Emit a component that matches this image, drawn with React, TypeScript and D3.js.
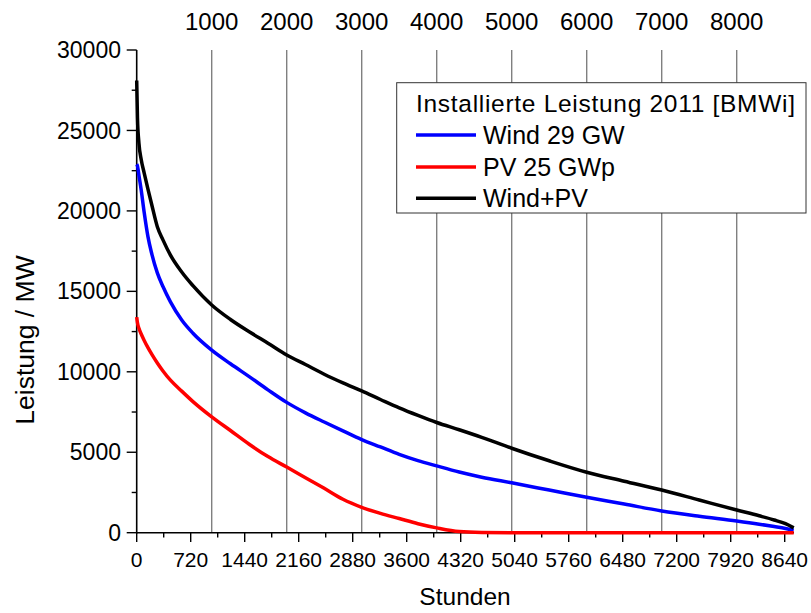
import * as d3 from 'd3'

// Dauerlinien 2011 (sortierte Stundenwerte)
const hours = [0, 10, 30, 60, 100, 150, 200, 275, 350, 450, 600, 750, 1000, 1250, 1500, 1750, 2000, 2250, 2500, 2750, 3000, 3250, 3500, 3750, 4000, 4300, 4600, 5000, 5500, 6000, 6500, 7000, 7500, 8000, 8300, 8500, 8650, 8760]
const windPv = [28100, 25800, 24200, 23200, 22350, 21350, 20400, 19020, 18200, 17250, 16200, 15350, 14150, 13250, 12490, 11780, 11050, 10450, 9850, 9310, 8810, 8280, 7760, 7290, 6850, 6400, 5930, 5250, 4470, 3760, 3200, 2650, 2030, 1410, 1050, 790, 560, 300]
const wind = [22900, 22800, 22200, 21300, 19900, 18400, 17350, 16150, 15300, 14350, 13220, 12400, 11350, 10500, 9700, 8880, 8100, 7450, 6880, 6330, 5790, 5330, 4870, 4480, 4150, 3770, 3450, 3100, 2650, 2200, 1780, 1350, 1020, 730, 530, 380, 260, 150]
const pv = [13400, 13050, 12700, 12350, 11950, 11500, 11100, 10550, 10050, 9480, 8800, 8150, 7200, 6350, 5500, 4730, 4080, 3420, 2760, 2080, 1580, 1200, 880, 560, 300, 70, 15, 0, 0, 0, 0, 0, 0, 0, 0, 0, 0, 0]

const seriesNames = ['Wind 29 GW', 'PV 25 GWp', 'Wind+PV']
const seriesColors = ['#0000ff', '#ff0000', '#000000']
const legendTitle = 'Installierte Leistung 2011 [BMWi]'

const bottomTicks = d3.range(0, 8641, 720)
const bottomMinor = d3.range(0, 8641, 360)
const topTicks = d3.range(1000, 8001, 1000)
const yTicks = d3.range(0, 30001, 5000)
const yMinor = d3.range(0, 30001, 2500)

const font = "'Liberation Sans', Arial, sans-serif"

export default function App() {
  const width = 811
  const height = 613

  const x = d3.scaleLinear().domain([0, 8760]).range([136.7, 793.7])
  const y = d3.scaleLinear().domain([0, 30000]).range([532.7, 50])

  const line = d3
    .line<number>()
    .x((_, i) => x(hours[i]))
    .y(d => y(d))
    .curve(d3.curveMonotoneX)

  // Reihenfolge wie im Original: Wind, PV, Summe oben drauf
  const data = [wind, pv, windPv]

  const lg = { x: 396.7, y: 82.7, w: 409.3, h: 130.3 }
  const legendRows = [144, 176, 207.3]

  return (
    <svg width={width} height={height} style={{ display: 'block', position: 'absolute', left: 0, top: 0 }} fontFamily={font}>
      <rect width={width} height={height} fill="#fff" />

      {/* Gitterlinien oben */}
      {topTicks.map(t => (
        <line key={'g' + t} x1={x(t)} x2={x(t)} y1={50} y2={532.7} stroke="#808080" strokeWidth={1.4} />
      ))}
      {topTicks.map(t => (
        <text key={'tt' + t} x={x(t)} y={30} textAnchor="middle" fontSize={24}>{t}</text>
      ))}

      {/* Legende */}
      <rect x={lg.x} y={lg.y} width={lg.w} height={lg.h} fill="#fff" stroke="#333" strokeWidth={1} />
      <text x={416} y={111.7} fontSize={24.5} textLength={379} lengthAdjust="spacing">{legendTitle}</text>
      {seriesNames.map((n, i) => (
        <g key={n}>
          <line x1={416} x2={476} y1={legendRows[i] - 9} y2={legendRows[i] - 9} stroke={seriesColors[i]} strokeWidth={3.5} />
          <text x={483} y={legendRows[i]} fontSize={25}>{n}</text>
        </g>
      ))}

      {/* Achsen */}
      <line x1={136.7} x2={136.7} y1={50} y2={533.5} stroke="#000" strokeWidth={1.6} />
      <line x1={136} x2={794} y1={532.7} y2={532.7} stroke="#000" strokeWidth={1.6} />
      {yMinor.map(t => (
        <line key={'ym' + t} x1={t % 5000 === 0 ? 126.7 : 131.7} x2={136.7} y1={y(t)} y2={y(t)} stroke="#000" strokeWidth={1.4} />
      ))}
      {yTicks.map(t => (
        <text key={'yt' + t} x={121} y={y(t)} dy="0.35em" textAnchor="end" fontSize={23}>{t}</text>
      ))}
      {bottomMinor.map(t => (
        <line key={'xm' + t} x1={x(t)} x2={x(t)} y1={532.7} y2={t % 720 === 0 ? 542 : 537.5} stroke="#000" strokeWidth={1.4} />
      ))}
      {bottomTicks.map(t => (
        <text key={'xt' + t} x={x(t)} y={566.7} textAnchor="middle" fontSize={21}>{t}</text>
      ))}

      {/* Kurven */}
      {data.map((d, i) => (
        <path key={'s' + i} d={line(d) ?? ''} fill="none" stroke={seriesColors[i]} strokeWidth={3.5} strokeLinejoin="round" />
      ))}

      {/* Achsentitel */}
      <text x={465} y={605} textAnchor="middle" fontSize={24.5}>Stunden</text>
      <text transform="translate(34,340) rotate(-90)" textAnchor="middle" fontSize={26.5}>Leistung / MW</text>
    </svg>
  )
}
